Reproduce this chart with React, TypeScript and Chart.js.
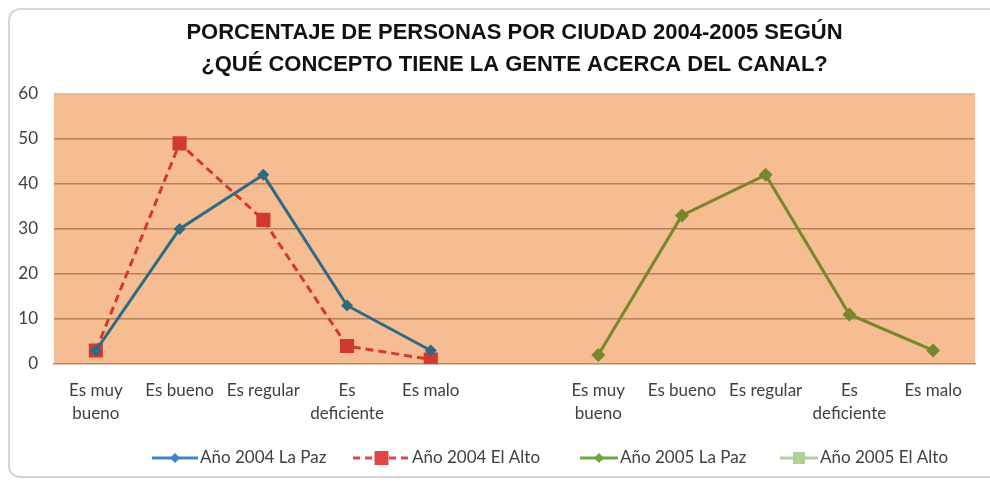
import React, { useEffect, useRef } from "react";
import { Chart, registerables } from "chart.js";

Chart.register(...registerables);

// ---- data ----
const titleLines = [
  "PORCENTAJE DE PERSONAS POR CIUDAD 2004-2005 SEGÚN",
  "¿QUÉ CONCEPTO TIENE LA GENTE ACERCA DEL CANAL?",
];
const concepts: (string | string[])[] = [
  ["Es muy", "bueno"],
  "Es bueno",
  "Es regular",
  ["Es", "deficiente"],
  "Es malo",
];
const xLabels = [...concepts, "", ...concepts];
const seriesNames = ["Año 2004 La Paz", "Año 2004 El Alto", "Año 2005 La Paz", "Año 2005 El Alto"];
const laPaz2004 = [3, 30, 42, 13, 3];
const elAlto2004 = [3, 49, 32, 4, 1];
const laPaz2005 = [2, 33, 42, 11, 3];
const elAlto2005: (number | null)[] = [null, null, null, null, null];
const noValues: (number | null)[] = [null, null, null, null, null];
const gapValue: (number | null)[] = [null];
const yMin = 0;
const yMax = 60;
const yStep = 10;

// ---- styles / layout ----
const FONT = "Lato, 'Open Sans', sans-serif";
const TITLE_FONT = "'Liberation Sans Narrow', 'Liberation Sans', Arial, sans-serif";
const PLOT_BG = "#F5BD91";
const GRID = "#B5825A";
const TEXT = "#404040";

const legendLayout = [
  { x: 142, w: 46, color: "#3D86C8", dash: [] as number[], marker: "diamond", size: 5 },
  { x: 343, w: 57, color: "#E34646", dash: [7, 5], marker: "square", size: 7 },
  { x: 570, w: 38, color: "#6DA83A", dash: [] as number[], marker: "diamond", size: 5 },
  { x: 770, w: 38, color: "#AFD396", dash: [] as number[], marker: "square", size: 6 },
];
const LEGEND_Y = 448;

const plotBgPlugin = {
  id: "plotBg",
  beforeDraw(chart: any) {
    const { ctx, chartArea } = chart;
    ctx.save();
    ctx.fillStyle = PLOT_BG;
    ctx.fillRect(chartArea.left, chartArea.top, chartArea.right - chartArea.left, chartArea.bottom - chartArea.top);
    ctx.restore();
  },
};

const legendPlugin = {
  id: "customLegend",
  afterDraw(chart: any) {
    const { ctx } = chart;
    ctx.save();
    chart.data.datasets.forEach((ds: any, i: number) => {
      const it = legendLayout[i];
      const y = LEGEND_Y;
      ctx.strokeStyle = it.color;
      ctx.lineWidth = 3;
      ctx.setLineDash(it.dash);
      ctx.beginPath();
      ctx.moveTo(it.x, y);
      ctx.lineTo(it.x + it.w, y);
      ctx.stroke();
      ctx.setLineDash([]);
      const cx = it.x + it.w / 2;
      ctx.fillStyle = it.color;
      ctx.beginPath();
      if (it.marker === "diamond") {
        ctx.moveTo(cx, y - it.size);
        ctx.lineTo(cx + it.size, y);
        ctx.lineTo(cx, y + it.size);
        ctx.lineTo(cx - it.size, y);
        ctx.closePath();
      } else {
        ctx.rect(cx - it.size, y - it.size, it.size * 2, it.size * 2);
      }
      ctx.fill();
      ctx.fillStyle = TEXT;
      ctx.font = `17px ${FONT}`;
      ctx.textBaseline = "middle";
      ctx.textAlign = "left";
      ctx.fillText(ds.label, it.x + it.w + 2, y);
    });
    ctx.restore();
  },
};

export default function App() {
  const ref = useRef<HTMLCanvasElement | null>(null);

  useEffect(() => {
    if (!ref.current) return;
    const chart = new Chart(ref.current, {
      type: "line",
      data: {
        labels: xLabels,
        datasets: [
          {
            label: seriesNames[0],
            data: [...laPaz2004, ...gapValue, ...noValues],
            borderColor: "#2F6A82",
            backgroundColor: "#2F6A82",
            borderWidth: 3,
            pointStyle: "rectRot",
            pointRadius: 6,
            pointBorderWidth: 0,
            spanGaps: false,
          },
          {
            label: seriesNames[1],
            data: [...elAlto2004, ...gapValue, ...noValues],
            borderColor: "#D33A2F",
            backgroundColor: "#D33A2F",
            borderWidth: 3,
            borderDash: [8, 5],
            pointStyle: "rect",
            pointRadius: 10,
            pointBorderWidth: 0,
            spanGaps: false,
          },
          {
            label: seriesNames[2],
            data: [...noValues, ...gapValue, ...laPaz2005],
            borderColor: "#77872B",
            backgroundColor: "#77872B",
            borderWidth: 3,
            pointStyle: "rectRot",
            pointRadius: 7,
            pointBorderWidth: 0,
            spanGaps: false,
          },
          {
            label: seriesNames[3],
            data: [...noValues, ...gapValue, ...elAlto2005],
            borderColor: "#A9D18E",
            backgroundColor: "#A9D18E",
            borderWidth: 3,
            pointStyle: "rect",
            pointRadius: 8,
            pointBorderWidth: 0,
            spanGaps: false,
          },
        ],
      },
      options: {
        responsive: false,
        animation: false,
        layout: { padding: { left: 0, right: 15, top: 0, bottom: 52 } },
        plugins: {
          legend: { display: false },
          tooltip: { enabled: false },
          title: {
            display: true,
            fullSize: false,
            text: titleLines,
            color: "#111111",
            font: { family: TITLE_FONT, size: 22, weight: "bold", lineHeight: 1.45 },
            padding: { top: 7, bottom: 13 },
          },
        },
        scales: {
          x: {
            offset: true,
            grid: { display: false, drawTicks: false },
            border: { display: true, color: "#A88A70", width: 1.5 },
            ticks: {
              color: TEXT,
              font: { family: FONT, size: 17, lineHeight: 1.35 },
              maxRotation: 0,
              minRotation: 0,
              autoSkip: false,
              padding: 15,
            },
            afterFit: (scale: any) => {
              scale.height = 60;
            },
          },
          y: {
            min: yMin,
            max: yMax,
            grid: {
              color: (c: any) =>
                c.tick && c.tick.value === yMax
                  ? "rgba(190,160,140,0.6)"
                  : c.tick && c.tick.value === yMin
                  ? "rgba(0,0,0,0)"
                  : GRID,
              lineWidth: 1.5,
              drawTicks: false,
            },
            border: { display: false },
            ticks: {
              stepSize: yStep,
              color: TEXT,
              font: { family: FONT, size: 17 },
              padding: 16,
            },
            afterFit: (scale: any) => {
              scale.width = 44;
            },
          },
        },
      },
      plugins: [plotBgPlugin, legendPlugin],
    } as any);
    return () => chart.destroy();
  }, []);

  return (
    <div
      style={{
        position: "fixed",
        left: 8,
        top: 8,
        width: 982,
        height: 470,
        border: "2px solid #D4D4D4",
        borderRight: "none",
        borderRadius: "12px 0 0 12px",
        boxSizing: "border-box",
        background: "#FFFFFF",
      }}
    >
      <canvas ref={ref} width={980} height={466} style={{ display: "block" }} />
    </div>
  );
}
